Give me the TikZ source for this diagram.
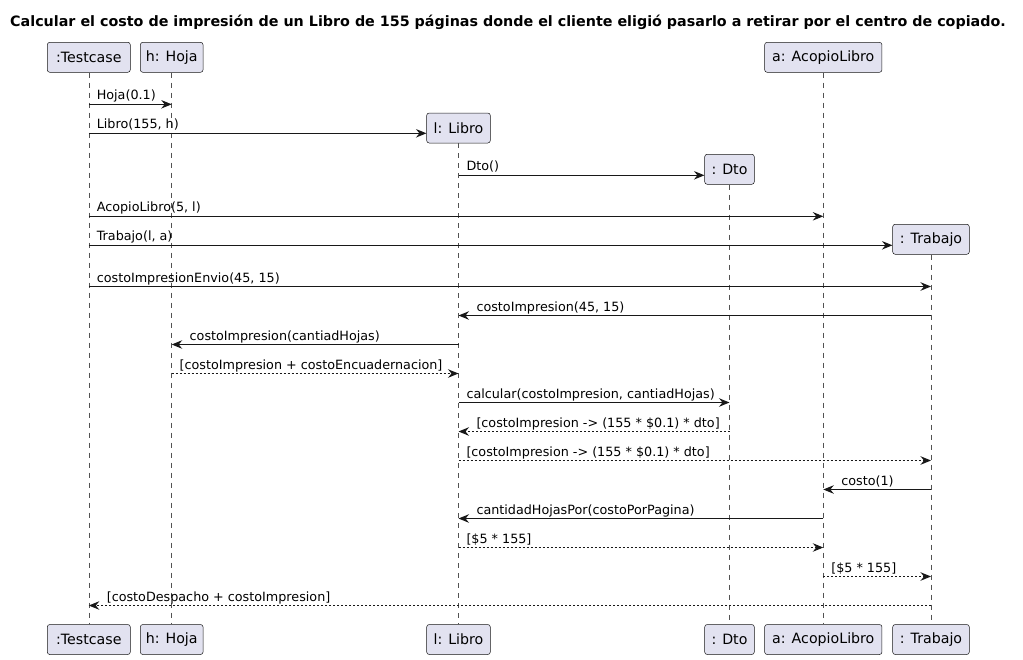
\documentclass[tikz,border=0pt]{standalone}
\usepackage{fontspec}
\setmainfont{DejaVu Sans}
\usetikzlibrary{arrows.meta}
\definecolor{boxfill}{HTML}{E2E2F0}
\definecolor{ink}{HTML}{181818}
\begin{document}
\begin{tikzpicture}[x=1pt,y=-1pt,
  part/.style={draw=ink, fill=boxfill, rounded corners=2.5pt, line width=0.5pt,
    minimum height=30pt, inner xsep=0pt, inner ysep=0pt, font=\fontsize{14.2}{16}\selectfont, text=black},
  life/.style={draw=ink!75, dash pattern=on 5pt off 5pt, line width=0.6pt},
  msg/.style={draw=ink, line width=1pt, -{Stealth[length=10.5pt,width=8.5pt,inset=3.5pt]}},
  ret/.style={msg, dash pattern=on 2pt off 2pt},
  lbl/.style={font=\fontsize{12.75}{14}\selectfont, anchor=base west, inner sep=0pt, text=black},
  lblR/.style={lbl, at start, xshift=7.5pt, yshift=4.5pt},
  lblL/.style={lbl, at end, xshift=17.5pt, yshift=4.5pt}
]
\path[use as bounding box] (0,0) rectangle (1023,659);

\node[font=\bfseries\fontsize{14.3}{16}\selectfont, anchor=center] (title) at (508,22)
  {Calcular el costo de impresión de un Libro de 155 páginas donde el cliente eligió pasarlo a retirar por el centro de copiado.};

% header participants
\node[part, minimum width=83pt] (tcT) at (88.8,57.3) {:Testcase};
\node[part, minimum width=62.7pt] (hT) at (171.7,57.3) {h: Hoja};
\node[part, minimum width=117.3pt] (aT) at (823.3,57.3) {a: AcopioLibro};
% created participants
\node[part, minimum width=63.6pt] (lT) at (458.5,128) {l: Libro};
\node[part, minimum width=49.6pt] (dT) at (729.5,169.3) {: Dto};
\node[part, minimum width=76.6pt] (tT) at (931,239.3) {: Trabajo};

% footer participants
\node[part, minimum width=83pt] (tcB) at (88.8,639.5) {:Testcase};
\node[part, minimum width=62.7pt] (hB) at (171.7,639.5) {h: Hoja};
\node[part, minimum width=63.6pt] (lB) at (458.5,639.5) {l: Libro};
\node[part, minimum width=49.6pt] (dB) at (729.5,639.5) {: Dto};
\node[part, minimum width=117.3pt] (aB) at (823.3,639.5) {a: AcopioLibro};
\node[part, minimum width=76.6pt] (tB) at (931,639.5) {: Trabajo};

% lifelines
\draw[life] (tcT.south) -- (tcB.north);
\draw[life] (hT.south) -- (hB.north);
\draw[life] (lT.south) -- (lB.north);
\draw[life] (dT.south) -- (dB.north);
\draw[life] (aT.south) -- (aB.north);
\draw[life] (tT.south) -- (tB.north);

% messages
\draw[msg] (tcT.south |- 0,104.3) -- node[lblR]{Hoja(0.1)} (hT.south |- 0,104.3);
\draw[msg] (tcT.south |- 0,133.3) -- node[lblR]{Libro(155, h)} (lT.west |- 0,133.3);
\draw[msg] (lT.south |- 0,175.3) -- node[lblR]{Dto()} (dT.west |- 0,175.3);
\draw[msg] (tcT.south |- 0,216.3) -- node[lblR]{AcopioLibro(5, l)} (aT.south |- 0,216.3);
\draw[msg] (tcT.south |- 0,245.3) -- node[lblR]{Trabajo(l, a)} (tT.west |- 0,245.3);
\draw[msg] (tcT.south |- 0,286.5) -- node[lblR]{costoImpresionEnvio(45, 15)} (tT.south |- 0,286.5);
\draw[msg] (tT.south |- 0,315.5) -- node[lblL]{costoImpresion(45, 15)} (lT.south |- 0,315.5);
\draw[msg] (lT.south |- 0,344.5) -- node[lblL]{costoImpresion(cantiadHojas)} (hT.south |- 0,344.5);
\draw[ret] (hT.south |- 0,373.5) -- node[lblR]{[costoImpresion + costoEncuadernacion]} (lT.south |- 0,373.5);
\draw[msg] (lT.south |- 0,402.5) -- node[lblR]{calcular(costoImpresion, cantiadHojas)} (dT.south |- 0,402.5);
\draw[ret] (dT.south |- 0,431.5) -- node[lblL]{[costoImpresion -> (155 * \$0.1) * dto]} (lT.south |- 0,431.5);
\draw[ret] (lT.south |- 0,460.5) -- node[lblR]{[costoImpresion -> (155 * \$0.1) * dto]} (tT.south |- 0,460.5);
\draw[msg] (tT.south |- 0,489.5) -- node[lblL]{costo(1)} (aT.south |- 0,489.5);
\draw[msg] (aT.south |- 0,518.5) -- node[lblL]{cantidadHojasPor(costoPorPagina)} (lT.south |- 0,518.5);
\draw[ret] (lT.south |- 0,547.5) -- node[lblR]{[\$5 * 155]} (aT.south |- 0,547.5);
\draw[ret] (aT.south |- 0,576.5) -- node[lblR]{[\$5 * 155]} (tT.south |- 0,576.5);
\draw[ret] (tT.south |- 0,605.5) -- node[lblL]{[costoDespacho + costoImpresion]} (tcT.south |- 0,605.5);
\end{tikzpicture}
\end{document}
